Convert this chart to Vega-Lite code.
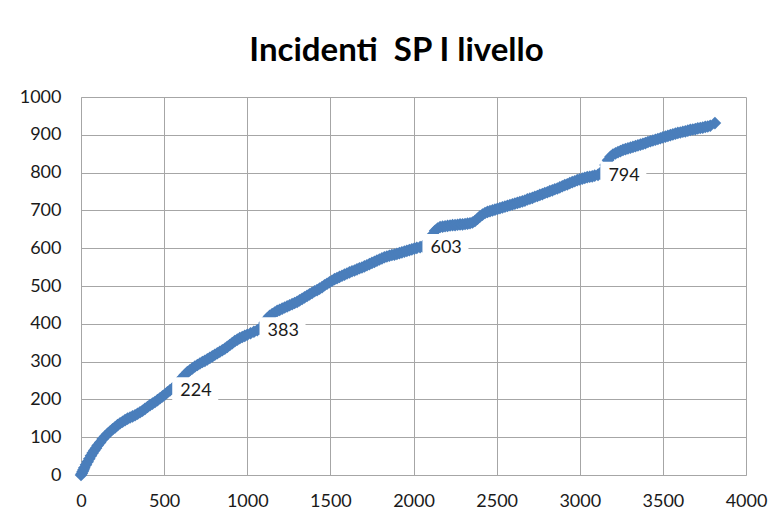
{
  "$schema": "https://vega.github.io/schema/vega-lite/v6.json",
  "autosize": {"type": "none"},
  "padding": {"left": 81, "top": 97, "right": 33, "bottom": 47},
  "width": 665,
  "height": 378,
  "background": "white",
  "title": {
    "text": "Incidenti \u00a0SP I livello",
    "font": "Lato",
    "fontSize": 33,
    "fontWeight": "bold",
    "color": "#000000",
    "anchor": "middle",
    "dx": -17,
    "baseline": "alphabetic",
    "offset": -6
  },
  "config": {
    "view": {"stroke": null},
    "axis": {
      "gridColor": "#a6a6a6",
      "gridWidth": 1,
      "domainColor": "#a6a6a6",
      "ticks": false,
      "labelFont": "Lato",
      "labelFontSize": 18,
      "labelColor": "#1a1a1a",
      "labelOverlap": false,
      "format": "d",
      "title": null
    }
  },
  "encoding": {
    "x": {"field": "x", "type": "quantitative", "scale": {"domain": [0, 4000], "nice": false}, "axis": {"values": [0,500,1000,1500,2000,2500,3000,3500,4000], "labelPadding": 17, "labelFlush": false, "labelOverlap": false}},
    "y": {"field": "y", "type": "quantitative", "scale": {"domain": [0, 1000], "nice": false}, "axis": {"values": [0,100,200,300,400,500,600,700,800,900,1000], "labelPadding": 20, "labelOverlap": false, "labelFlush": false}}
  },
  "layer": [
    {
      "data": {"values": [
        {"x":0,"y":0},{"x":5,"y":4},{"x":10,"y":9},{"x":15,"y":14},{"x":20,"y":19},{"x":30,"y":27},{"x":40,"y":35},{"x":50,"y":43},{"x":60,"y":51},{"x":70,"y":58},{"x":80,"y":65},{"x":90,"y":71},{"x":100,"y":78},{"x":115,"y":86},{"x":130,"y":95},{"x":145,"y":102},{"x":160,"y":109},{"x":175,"y":115},{"x":190,"y":121},{"x":205,"y":126},{"x":220,"y":132},{"x":235,"y":137},{"x":250,"y":141},{"x":265,"y":145},{"x":280,"y":149},{"x":295,"y":152},{"x":310,"y":155},{"x":325,"y":158},{"x":340,"y":162},{"x":355,"y":166},{"x":370,"y":170},{"x":385,"y":175},{"x":400,"y":180},{"x":415,"y":185},{"x":430,"y":189},{"x":445,"y":193},{"x":460,"y":198},{"x":475,"y":203},{"x":490,"y":208},{"x":505,"y":213},{"x":520,"y":219},{"x":535,"y":224},
        {"x":550,"y":229},{"x":565,"y":234},{"x":580,"y":241},{"x":595,"y":250},{"x":610,"y":258},{"x":625,"y":265},{"x":640,"y":272},{"x":655,"y":277},{"x":670,"y":282},{"x":685,"y":287},{"x":700,"y":291},{"x":715,"y":295},{"x":730,"y":299},{"x":745,"y":302},{"x":760,"y":306},{"x":775,"y":310},{"x":790,"y":314},{"x":805,"y":318},{"x":820,"y":322},{"x":835,"y":326},{"x":850,"y":330},{"x":865,"y":334},{"x":880,"y":339},{"x":895,"y":344},{"x":910,"y":349},{"x":925,"y":354},{"x":940,"y":358},{"x":955,"y":362},{"x":970,"y":365},{"x":985,"y":368},{"x":1000,"y":371},{"x":1020,"y":375},{"x":1040,"y":379},{"x":1060,"y":383},
        {"x":1075,"y":387},{"x":1090,"y":393},{"x":1105,"y":403},{"x":1120,"y":414},{"x":1135,"y":421},{"x":1150,"y":426},{"x":1165,"y":430},{"x":1180,"y":434},{"x":1195,"y":437},{"x":1210,"y":440},{"x":1225,"y":443},{"x":1240,"y":446},{"x":1255,"y":449},{"x":1270,"y":452},{"x":1285,"y":455},{"x":1300,"y":458},{"x":1315,"y":462},{"x":1330,"y":466},{"x":1345,"y":470},{"x":1360,"y":474},{"x":1375,"y":478},{"x":1390,"y":482},{"x":1405,"y":486},{"x":1420,"y":489},{"x":1435,"y":493},{"x":1450,"y":497},{"x":1465,"y":502},{"x":1480,"y":506},{"x":1495,"y":510},{"x":1510,"y":514},{"x":1525,"y":518},{"x":1540,"y":521},{"x":1555,"y":524},{"x":1570,"y":527},{"x":1585,"y":530},{"x":1600,"y":533},{"x":1615,"y":536},{"x":1630,"y":539},{"x":1645,"y":541},{"x":1660,"y":544},{"x":1675,"y":547},{"x":1690,"y":549},{"x":1705,"y":552},{"x":1720,"y":555},{"x":1735,"y":558},{"x":1750,"y":561},{"x":1765,"y":564},{"x":1780,"y":567},{"x":1795,"y":570},{"x":1810,"y":573},{"x":1825,"y":576},{"x":1840,"y":578},{"x":1855,"y":580},{"x":1870,"y":582},{"x":1885,"y":583},{"x":1900,"y":585},{"x":1915,"y":587},{"x":1930,"y":589},{"x":1945,"y":591},{"x":1960,"y":593},{"x":1975,"y":595},{"x":1990,"y":597},{"x":2005,"y":599},{"x":2020,"y":601},{"x":2040,"y":603},
        {"x":2055,"y":605},{"x":2070,"y":607},{"x":2085,"y":612},{"x":2100,"y":622},{"x":2115,"y":636},{"x":2130,"y":646},{"x":2145,"y":652},{"x":2160,"y":656},{"x":2175,"y":657},{"x":2190,"y":658},{"x":2205,"y":659},{"x":2220,"y":660},{"x":2235,"y":661},{"x":2250,"y":661},{"x":2265,"y":662},{"x":2280,"y":663},{"x":2295,"y":663},{"x":2310,"y":664},{"x":2325,"y":665},{"x":2340,"y":666},{"x":2355,"y":668},{"x":2370,"y":672},{"x":2385,"y":678},{"x":2400,"y":684},{"x":2415,"y":689},{"x":2430,"y":693},{"x":2445,"y":696},{"x":2460,"y":698},{"x":2475,"y":700},{"x":2490,"y":702},{"x":2505,"y":704},{"x":2520,"y":706},{"x":2535,"y":708},{"x":2550,"y":710},{"x":2565,"y":712},{"x":2580,"y":714},{"x":2595,"y":716},{"x":2610,"y":718},{"x":2625,"y":720},{"x":2640,"y":722},{"x":2655,"y":724},{"x":2670,"y":726},{"x":2685,"y":729},{"x":2700,"y":731},{"x":2715,"y":733},{"x":2730,"y":736},{"x":2745,"y":738},{"x":2760,"y":741},{"x":2775,"y":743},{"x":2790,"y":746},{"x":2805,"y":748},{"x":2820,"y":751},{"x":2835,"y":753},{"x":2850,"y":756},{"x":2865,"y":758},{"x":2880,"y":761},{"x":2895,"y":764},{"x":2910,"y":767},{"x":2925,"y":769},{"x":2940,"y":772},{"x":2955,"y":775},{"x":2970,"y":777},{"x":2985,"y":780},{"x":3000,"y":782},{"x":3015,"y":784},{"x":3030,"y":786},{"x":3045,"y":788},{"x":3060,"y":789},{"x":3075,"y":790},{"x":3090,"y":792},{"x":3110,"y":794},
        {"x":3125,"y":797},{"x":3140,"y":806},{"x":3155,"y":820},{"x":3170,"y":833},{"x":3185,"y":842},{"x":3200,"y":848},{"x":3215,"y":851},{"x":3230,"y":854},{"x":3245,"y":857},{"x":3260,"y":860},{"x":3275,"y":862},{"x":3290,"y":864},{"x":3305,"y":866},{"x":3320,"y":868},{"x":3335,"y":870},{"x":3350,"y":872},{"x":3365,"y":874},{"x":3380,"y":876},{"x":3395,"y":878},{"x":3410,"y":881},{"x":3425,"y":883},{"x":3440,"y":885},{"x":3455,"y":887},{"x":3470,"y":889},{"x":3485,"y":891},{"x":3500,"y":893},{"x":3515,"y":895},{"x":3530,"y":897},{"x":3545,"y":899},{"x":3560,"y":901},{"x":3575,"y":903},{"x":3590,"y":905},{"x":3605,"y":906},{"x":3620,"y":908},{"x":3635,"y":909},{"x":3650,"y":911},{"x":3665,"y":913},{"x":3680,"y":914},{"x":3695,"y":915},{"x":3710,"y":917},{"x":3725,"y":918},{"x":3740,"y":919},{"x":3755,"y":921},{"x":3770,"y":922},{"x":3785,"y":924},{"x":3813,"y":931}
      ]},
      "mark": {"type": "point", "shape": "diamond", "filled": true, "size": 160, "color": "#4a7ebb", "opacity": 1, "clip": false}
    },
    {
      "data": {"values": [
        {"x": 535, "y": 224},
        {"x": 1060, "y": 383},
        {"x": 2040, "y": 603},
        {"x": 3110, "y": 794}
      ]},
      "layer": [
        {
          "mark": {"type": "point", "shape": "M0.1,-0.565H2.1V0.565H0.1Z", "filled": true, "size": 2116, "color": "white", "opacity": 1, "strokeWidth": 0}
        },
        {
          "mark": {"type": "text", "font": "Lato", "fontSize": 18, "color": "#1a1a1a", "align": "center", "baseline": "middle", "dx": 26, "dy": 1},
          "encoding": {
            "text": {"field": "y", "type": "quantitative"}
          }
        }
      ]
    }
  ]
}
